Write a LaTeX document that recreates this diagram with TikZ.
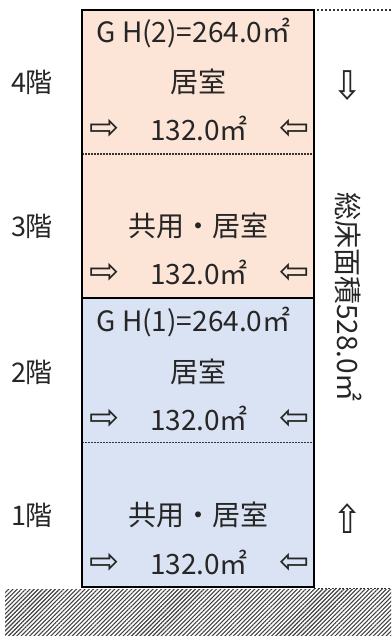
\documentclass[tikz,border=0pt]{standalone}
\usepackage{fontspec}
\setmainfont{Noto Sans CJK JP}
\newfontfamily\arrowfont{DejaVu Sans}
\usetikzlibrary{patterns.meta}
\definecolor{pinkfill}{HTML}{FCE4D6}
\definecolor{bluefill}{HTML}{DAE3F3}
\definecolor{txt}{HTML}{262626}
\tikzset{
  floorbox/.style={minimum width=232pt, minimum height=144pt, inner sep=0pt, outer sep=0pt, draw=none},
  lbl/.style={font=\fontsize{28}{28}\selectfont, text=txt, inner sep=0pt, anchor=center},
  arr/.style={font=\arrowfont\fontsize{36}{36}\selectfont, text=txt, inner sep=0pt},
  varr/.style={font=\arrowfont\fontsize{36}{36}\selectfont, text=txt, inner sep=0pt, yscale=1.1},
  sidelbl/.style={font=\fontsize{27}{27}\selectfont, text=txt, inner sep=0pt},
}
\begin{document}
\begin{tikzpicture}[x=1pt,y=-1pt]
\useasboundingbox (0,0) rectangle (391,636);
% ground
\fill[pattern={Lines[angle=45,distance=3pt,line width=1.1pt]}, pattern color=black!75] (5,589) rectangle (391,636);
\draw[black!80, line width=1.2pt, dash pattern=on 2pt off 1.5pt] (314,588.5) -- (391,588.5);
% floors
\node[floorbox, fill=pinkfill] (f4) at (198,82) {};
\node[floorbox, fill=pinkfill] (f3) at (198,226) {};
\node[floorbox, fill=bluefill] (f2) at (198,370.5) {};
\node[floorbox, fill=bluefill] (f1) at (198,515) {};
\draw[black!80, line width=1.2pt, dash pattern=on 2pt off 1pt] (f4.south west) -- (f4.south east);
\draw[black!80, line width=1.2pt, dash pattern=on 2pt off 1pt] (f2.south west) -- (f2.south east);
\draw[black, line width=2.7pt] (f3.south west) -- (f3.south east);
\draw[black, line width=2.7pt] (f4.north west) rectangle (f1.south east);
% top dotted
\coordinate (topend) at (391,10);
\draw[black!80, line width=1.5pt, dash pattern=on 2pt off 2pt] ([xshift=3pt]f4.north east) -- (topend);
% floor 4
\node[lbl] (gh2) at (193.5,33) {G H(2)=264.0㎡};
\node[lbl] (r4) at (198,82) {居室};
\node[arr] (a4l) at (105,129) {⇨};
\node[lbl] (m4) at (199,128) {132.0㎡};
\node[arr] (a4r) at (294.5,129) {⇦};
% floor 3
\node[lbl] (r3) at (198,226) {共用・居室};
\node[arr] (a3l) at (105,273) {⇨};
\node[lbl] (m3) at (199,272) {132.0㎡};
\node[arr] (a3r) at (294.5,273) {⇦};
% floor 2
\node[lbl] (gh1) at (193.5,322) {G H(1)=264.0㎡};
\node[lbl] (r2) at (198,372) {居室};
\node[arr] (a2l) at (105,419) {⇨};
\node[lbl] (m2) at (199,418) {132.0㎡};
\node[arr] (a2r) at (294.5,419) {⇦};
% floor 1
\node[lbl] (r1) at (198,515) {共用・居室};
\node[arr] (a1l) at (105,563) {⇨};
\node[lbl] (m1) at (199,562) {132.0㎡};
\node[arr] (a1r) at (294.5,563) {⇦};
% side labels
\node[sidelbl] (l4) at (32,82) {4階};
\node[sidelbl] (l3) at (32,226) {3階};
\node[sidelbl] (l2) at (32,372) {2階};
\node[sidelbl] (l1) at (32,515) {1階};
\node[varr] (down) at (348,86) {⇩};
\node[varr] (up) at (348,519) {⇧};
\node[sidelbl, font=\fontsize{28}{28}\selectfont, rotate=-90] (total) at (349,297) {総床面積528.0㎡};
\end{tikzpicture}
\end{document}
